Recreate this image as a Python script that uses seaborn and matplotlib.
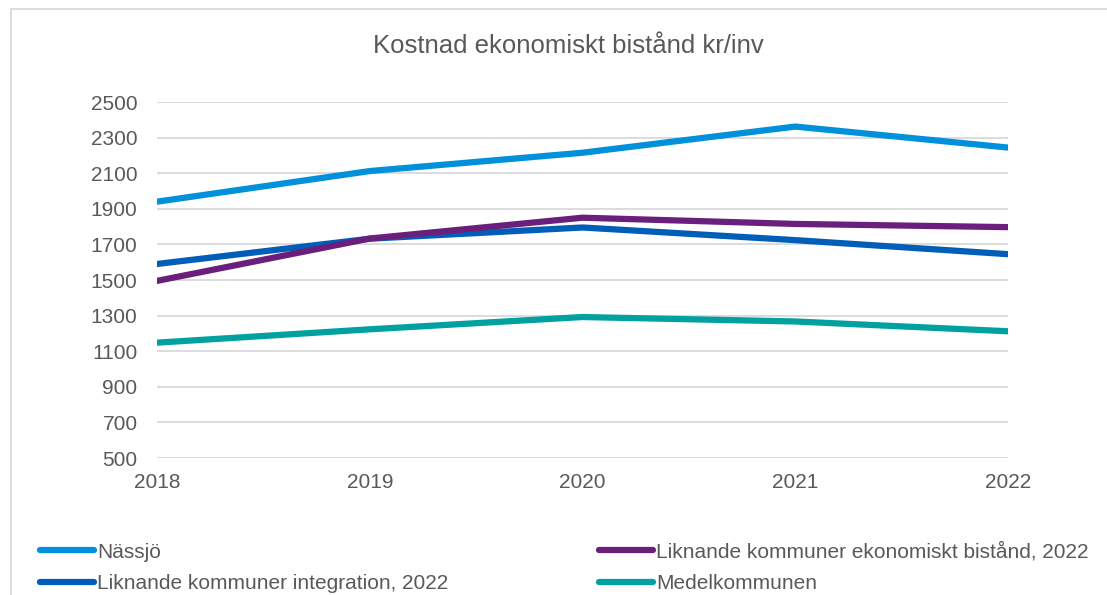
import matplotlib
matplotlib.use("Agg")
import matplotlib.pyplot as plt
import matplotlib.patches as mpatches
import seaborn as sns
import pandas as pd

years = [2018, 2019, 2020, 2021, 2022]
nassjo = [1940, 2112, 2215, 2362, 2244]
liknande_ekonomiskt = [1495, 1733, 1850, 1815, 1797]
liknande_integration = [1590, 1732, 1795, 1724, 1645]
medelkommunen = [1148, 1223, 1292, 1267, 1212]
series_names = ["Nässjö", "Liknande kommuner integration, 2022",
                "Liknande kommuner ekonomiskt bistånd, 2022", "Medelkommunen"]
series_values = [nassjo, liknande_integration, liknande_ekonomiskt, medelkommunen]
colors = ["#0091DA", "#005EB8", "#6B1F7C", "#00A19F"]
yticks = list(range(500, 2501, 200))
title = "Kostnad ekonomiskt bistånd kr/inv"

rows = []
for name, vals in zip(series_names, series_values):
    for y, v in zip(years, vals):
        rows.append({"År": y, "Värde": v, "Serie": name})
df = pd.DataFrame(rows)

sns.set_theme(style="white")
plt.rcParams["font.family"] = ["Liberation Sans", "DejaVu Sans"]

fig = plt.figure(figsize=(11.07, 5.95), dpi=100)
ax = fig.add_axes([157/1107, 1-458/595, (1008-157)/1107, (458-102)/595])

sns.lineplot(data=df, x="År", y="Värde", hue="Serie", hue_order=series_names,
             palette=dict(zip(series_names, colors)), linewidth=4.5, ax=ax,
             legend=False)

ax.set_xlim(2018, 2022)
ax.set_ylim(500, 2500)
ax.set_yticks(yticks)
ax.set_xticks(years)
ax.set_xticklabels([str(y) for y in years])
ax.set_xlabel("")
ax.set_ylabel("")
ax.grid(axis="y", color="#d9d9d9", linewidth=1.3)
ax.set_axisbelow(True)
for s in ax.spines.values():
    s.set_visible(False)
ax.tick_params(axis="both", length=0, labelsize=15, labelcolor="#595959")
ax.tick_params(axis="x", pad=11)
ax.tick_params(axis="y", pad=14)

fig.text(568/1107, 1-46/595, title, ha="center", va="center",
         fontsize=18.5, color="#595959")

handles = [plt.Line2D([], [], color=c, linewidth=4.5, solid_capstyle="round")
           for c in colors]
leg = fig.legend(handles, series_names, loc="upper left", ncol=2,
                 bbox_to_anchor=(40/1107, 1-542/595), frameon=False,
                 fontsize=15, handlelength=2.6, handletextpad=0.15,
                 columnspacing=7.2, labelspacing=0.62, borderpad=0,
                 borderaxespad=0)
for t in leg.get_texts():
    t.set_color("#595959")

border = mpatches.Rectangle((11/1107, -0.1), 1.2, 1.1 - 9.5/595,
                            transform=fig.transFigure, fill=False,
                            edgecolor="#d9d9d9", linewidth=1.3)
fig.patches.append(border)

fig.savefig("out.png", dpi=100)
